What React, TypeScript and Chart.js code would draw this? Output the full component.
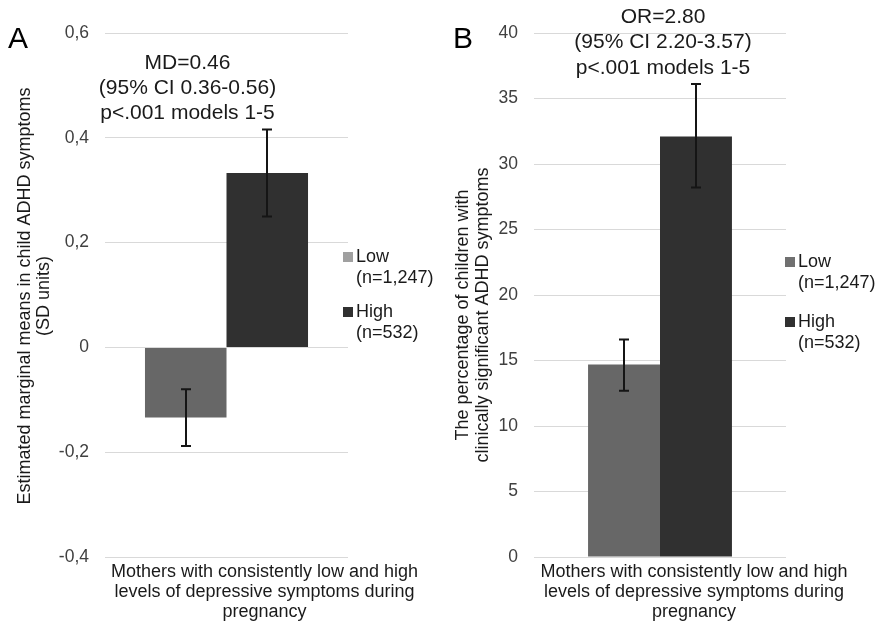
import React, { useEffect, useRef } from "react";
import { Chart, registerables } from "chart.js";

Chart.register(...registerables);

// ---------- data ----------
const categoryLines = [
  "Mothers with consistently low and high",
  "levels of depressive symptoms during",
  "pregnancy",
];
const seriesNames = ["Low", "High"];
const seriesSizes = ["(n=1,247)", "(n=532)"];

// Panel A: estimated marginal means (SD units)
const meansA = [-0.134, 0.333];
const lowerA = [-0.188, 0.25];
const upperA = [-0.08, 0.416];
const ticksA = [-0.4, -0.2, 0, 0.2, 0.4, 0.6];
const annotationA = ["MD=0.46", "(95% CI 0.36-0.56)", "p<.001 models 1-5"];
const yTitleA = ["Estimated marginal means in child ADHD symptoms", "(SD units)"];

// Panel B: percentage with clinically significant ADHD symptoms
const pctB = [14.7, 32.1];
const lowerB = [12.7, 28.2];
const upperB = [16.6, 36.1];
const ticksB = [0, 5, 10, 15, 20, 25, 30, 35, 40];
const annotationB = ["OR=2.80", "(95% CI 2.20-3.57)", "p<.001 models 1-5"];
const yTitleB = ["The percentage of children with", "clinically significant ADHD symptoms"];

// ---------- styles ----------
const FONT = "'Liberation Sans', Arial, sans-serif";
const barColors = ["#676767", "#303030"];
const TEXT = "#1a1a1a";
const TICK = "#404040";

type PanelCfg = {
  letter: string;
  letterX: number;
  values: number[];
  lower: number[];
  upper: number[];
  ticks: number[];
  fmt: (v: number) => string;
  annotation: string[];
  annX: number;
  annY: number[];
  yTitle: string[];
  yTitleX: number[];
  yTitleY: number;
  legendColors: string[];
  legSqX: number;
  legTextX: number;
  legY: number[][];
  chartLeft: number;
  padRight: number;
  catPct: number;
  labelOffset: number;
  width: number;
};

const panelA: PanelCfg = {
  letter: "A",
  letterX: 8,
  values: meansA,
  lower: lowerA,
  upper: upperA,
  ticks: ticksA,
  fmt: (v) => {
    const r = Math.round(v * 10) / 10;
    return r === 0 ? "0" : r.toFixed(1).replace(".", ",");
  },
  annotation: annotationA,
  annX: 187.5,
  annY: [63, 88, 113],
  yTitle: yTitleA,
  yTitleX: [25, 44],
  yTitleY: 296,
  legendColors: ["#a0a0a0", "#303030"],
  legSqX: 343,
  legTextX: 356,
  legY: [
    [257, 278],
    [312, 333],
  ],
  chartLeft: 105,
  padRight: 92,
  catPct: 0.671,
  labelOffset: 38,
  width: 440,
};

const panelB: PanelCfg = {
  letter: "B",
  letterX: 13,
  values: pctB,
  lower: lowerB,
  upper: upperB,
  ticks: ticksB,
  fmt: (v) => String(Math.round(v)),
  annotation: annotationB,
  annX: 223,
  annY: [17, 42.5, 68],
  yTitle: yTitleB,
  yTitleX: [23, 43],
  yTitleY: 315,
  legendColors: ["#707070", "#303030"],
  legSqX: 345,
  legTextX: 358,
  legY: [
    [262, 283],
    [322, 343],
  ],
  chartLeft: 94,
  padRight: 93,
  catPct: 0.571,
  labelOffset: 34,
  width: 439,
};

function makeChart(canvas: HTMLCanvasElement, cfg: PanelCfg) {
  const deco = {
    id: "deco" + cfg.letter,
    afterDatasetsDraw(chart: any) {
      const ctx = chart.ctx as CanvasRenderingContext2D;
      const yScale = chart.scales.y;
      ctx.save();
      ctx.strokeStyle = "#151515";
      ctx.lineWidth = 2;
      seriesNames.forEach((_, i) => {
        const bar = chart.getDatasetMeta(i).data[0];
        if (!bar) return;
        const x = Math.round(bar.x);
        const y1 = yScale.getPixelForValue(cfg.lower[i]);
        const y2 = yScale.getPixelForValue(cfg.upper[i]);
        ctx.beginPath();
        ctx.moveTo(x, y1);
        ctx.lineTo(x, y2);
        ctx.moveTo(x - 5, y1);
        ctx.lineTo(x + 5, y1);
        ctx.moveTo(x - 5, y2);
        ctx.lineTo(x + 5, y2);
        ctx.stroke();
      });
      ctx.restore();
    },
    afterDraw(chart: any) {
      const ctx = chart.ctx as CanvasRenderingContext2D;
      ctx.save();
      // panel letter
      ctx.fillStyle = "#000";
      ctx.font = `30px ${FONT}`;
      ctx.textAlign = "left";
      ctx.textBaseline = "middle";
      ctx.fillText(cfg.letter, cfg.letterX, 40);
      // annotation
      ctx.font = `21px ${FONT}`;
      ctx.textAlign = "center";
      ctx.fillStyle = TEXT;
      cfg.annotation.forEach((t, i) => ctx.fillText(t, cfg.annX, cfg.annY[i]));
      // y title (rotated)
      ctx.font = `18px ${FONT}`;
      cfg.yTitle.forEach((t, i) => {
        ctx.save();
        ctx.translate(cfg.yTitleX[i], cfg.yTitleY);
        ctx.rotate(-Math.PI / 2);
        ctx.textAlign = "center";
        ctx.textBaseline = "middle";
        ctx.fillText(t, 0, 0);
        ctx.restore();
      });
      // legend
      ctx.font = `18px ${FONT}`;
      ctx.textAlign = "left";
      ctx.textBaseline = "middle";
      seriesNames.forEach((name, i) => {
        const [y1, y2] = cfg.legY[i];
        ctx.fillStyle = cfg.legendColors[i];
        ctx.fillRect(cfg.legSqX, y1 - 5, 10, 10);
        ctx.fillStyle = TEXT;
        ctx.fillText(name, cfg.legTextX, y1);
        ctx.fillText(seriesSizes[i], cfg.legTextX, y2);
      });
      ctx.restore();
    },
  };

  return new Chart(canvas, {
    type: "bar",
    data: {
      labels: [categoryLines],
      datasets: seriesNames.map((name, i) => ({
        label: name,
        data: [cfg.values[i]],
        backgroundColor: barColors[i],
        borderWidth: 0,
        categoryPercentage: cfg.catPct,
        barPercentage: 1,
      })),
    },
    options: {
      responsive: false,
      animation: false,
      layout: { padding: { top: 33, right: cfg.padRight, bottom: 0, left: 0 } },
      plugins: {
        legend: { display: false },
        tooltip: { enabled: false },
      },
      scales: {
        x: {
          grid: { display: false, drawTicks: false },
          border: { display: false },
          ticks: {
            font: { family: FONT, size: 18, lineHeight: 20 / 18 },
            color: TEXT,
            padding: 5,
            labelOffset: cfg.labelOffset,
            maxRotation: 0,
            autoSkip: false,
          },
          afterFit: (s: any) => {
            s.height = 68;
          },
        },
        y: {
          min: cfg.ticks[0],
          max: cfg.ticks[cfg.ticks.length - 1],
          afterBuildTicks: (s: any) => {
            s.ticks = cfg.ticks.map((v) => ({ value: v }));
          },
          grid: { color: "#d9d9d9", lineWidth: 1, drawTicks: false },
          border: { display: false },
          ticks: {
            font: { family: FONT, size: 17.5 },
            color: TICK,
            padding: 16,
            callback: (v: any) => cfg.fmt(Number(v)),
          },
          afterFit: (s: any) => {
            s.width = cfg.chartLeft;
          },
        },
      },
    } as any,
    plugins: [deco],
  });
}

function Panel({ cfg, left }: { cfg: PanelCfg; left: number }) {
  const ref = useRef<HTMLCanvasElement>(null);
  useEffect(() => {
    const chart = makeChart(ref.current as HTMLCanvasElement, cfg);
    return () => chart.destroy();
  }, [cfg]);
  return (
    <canvas
      ref={ref}
      width={cfg.width}
      height={625}
      style={{ position: "absolute", left, top: 0, width: cfg.width, height: 625, display: "block" }}
    />
  );
}

export default function App() {
  return (
    <div
      style={{
        position: "absolute",
        left: 0,
        top: 0,
        width: 879,
        height: 625,
        background: "#fff",
        overflow: "hidden",
      }}
    >
      <Panel cfg={panelA} left={0} />
      <Panel cfg={panelB} left={440} />
    </div>
  );
}
